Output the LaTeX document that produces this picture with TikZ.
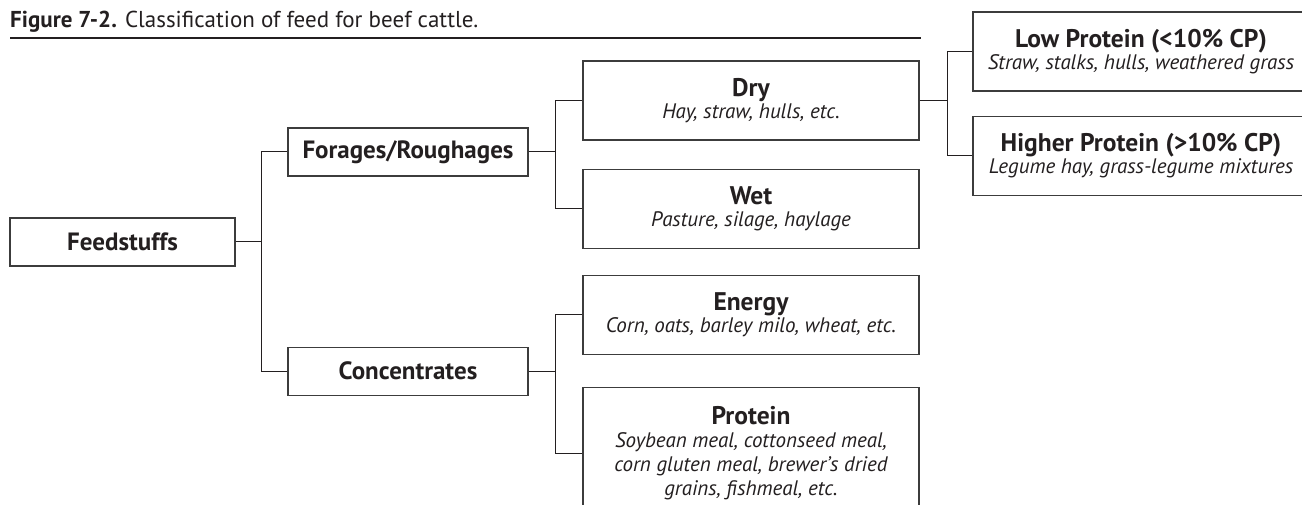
\documentclass[tikz,border=0pt]{standalone}
\usepackage{fontspec}
\setmainfont{PT Sans}
\usetikzlibrary{positioning}
\definecolor{ink}{HTML}{231F20}
\definecolor{edge}{HTML}{3C3C3C}
\newcommand{\headtxt}[1]{{\bfseries\fontsize{25.5}{26}\selectfont #1}}

\begin{document}
\begin{tikzpicture}[
                x=1pt, y=-1pt,
                font=\fontsize{21}{24}\selectfont,
                every node/.style={align=center, text=ink},
                topbox/.style={rectangle, draw=edge, line width=1.2pt, inner sep=0pt,
                        minimum height=48pt, font=\fontsize{25}{28}\selectfont\bfseries},
                subbox/.style={rectangle, draw=edge, line width=1.2pt, inner sep=0pt,
                        minimum width=336pt, minimum height=79pt},
                link/.style={draw=ink, line width=1pt},
                node distance=28pt,
            ]
            \clip (0,0) rectangle (1302,505);
            % title and rule
            \node[anchor=base west, inner sep=0pt, font=\fontsize{23}{27}\selectfont] (title) at (10,28)
                {\textbf{Figure 7-2.} Classification of feed for beef cattle.};
            \draw[ink, line width=2pt] (10,38) -- (921,38);

            % first level
            \node[topbox, minimum width=225pt] (feed) at (122.5,242) {Feedstuffs};
            \node[topbox, minimum width=240pt] (forage) at (408,152) {Forages/Roughages};
            \node[topbox, minimum width=240pt, below=170pt of forage] (conc) {Concentrates};

            % second level
            \node[subbox] (dry) at (751,100.5) {\headtxt{Dry}\\[-2pt]
                \itshape Hay, straw, hulls, etc.};
            \node[subbox, below=28pt of dry] (wet) {\headtxt{Wet}\\[-2pt]
                \itshape Pasture, silage, haylage};
            \node[subbox, below=26pt of wet] (energy) {\headtxt{Energy}\\[-2pt]
                \itshape Corn, oats, barley milo, wheat, etc.};
            \node[subbox, minimum height=131pt, below=32pt of energy] (protein)
                {\headtxt{Protein}\\[-1pt]
                \itshape Soybean meal, cottonseed meal,\\
                \itshape corn gluten meal, brewer’s dried\\
                \itshape grains, fishmeal, etc.};

            % third level
            \node[subbox] (low) at (1141,51.5) {\headtxt{Low Protein (<10\% CP)}\\[-2pt]
                \itshape Straw, stalks, hulls, weathered grass};
            \node[subbox, below=24pt of low] (high) {\headtxt{Higher Protein (>10\% CP)}\\[-2pt]
                \itshape Legume hay, grass-legume mixtures};

            % connectors
            \draw[link] (feed.east) -- ++(26,0) coordinate (j1);
            \draw[link] (j1) |- (forage.west);
            \draw[link] (j1) |- (conc.west);
            \draw[link] (forage.east) -- ++(27,0) coordinate (j2);
            \draw[link] (j2) |- (dry.west);
            \draw[link] (j2) |- (wet.west);
            \draw[link] (conc.east) -- ++(27,0) coordinate (j3);
            \draw[link] (j3) |- (energy.west);
            \draw[link] (j3) |- (protein.west);
            \draw[link] (dry.east) -- ++(28,0) coordinate (j4);
            \draw[link] (j4) |- (low.west);
            \draw[link] (j4) |- (high.west);

        \end{tikzpicture}
\end{document}
